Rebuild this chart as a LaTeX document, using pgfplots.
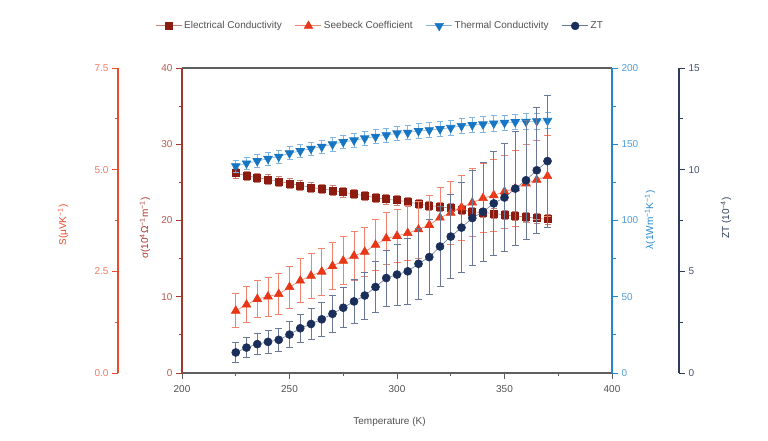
\documentclass[border=0pt]{standalone}
\usepackage{pgfplots}
\pgfplotsset{compat=1.18}
\usepackage{pgfplotstable}
\usepackage{fontspec}
\setmainfont{Liberation Sans}
\definecolor{sigC}{RGB}{140,28,16}
\definecolor{sigAx}{RGB}{165,55,45}
\definecolor{sigTk}{RGB}{180,90,80}
\definecolor{sigLt}{RGB}{200,130,120}
\definecolor{SC}{RGB}{232,55,22}
\definecolor{SAx}{RGB}{235,75,45}
\definecolor{STk}{RGB}{238,120,100}
\definecolor{SLt}{RGB}{240,130,110}
\definecolor{lamC}{RGB}{22,118,196}
\definecolor{lamAx}{RGB}{35,135,205}
\definecolor{lamTk}{RGB}{80,155,215}
\definecolor{lamLt}{RGB}{130,180,225}
\definecolor{ztC}{RGB}{26,46,90}
\definecolor{ztAx}{RGB}{45,60,90}
\definecolor{ztTk}{RGB}{70,82,110}
\definecolor{ztLt}{RGB}{105,120,150}
\definecolor{gAx}{RGB}{95,95,95}
\definecolor{gTx}{RGB}{80,80,80}
\newcommand{\fs}{\fontsize{10}{12}\selectfont}

\pgfplotstableread{
T   sig   sige  S     Se    lam    lame  zt     zte
225 26.19 0.6  1.53  0.42  135.7  4.0   1.01  0.50
230 25.88 0.6  1.68  0.44  137.5  4.0   1.25  0.48
235 25.61 0.6  1.82  0.46  139.0  4.1   1.42  0.52
240 25.40 0.6  1.88  0.48  140.5  4.1   1.53  0.55
245 25.14 0.6  1.94  0.50  141.9  4.2   1.63  0.55
250 24.87 0.6  2.11  0.52  144.1  4.2   1.89  0.65
255 24.61 0.6  2.27  0.54  145.6  4.3   2.20  0.70
260 24.35 0.6  2.39  0.56  147.1  4.3   2.41  0.75
265 24.13 0.6  2.49  0.57  148.4  4.3   2.64  0.82
270 23.96 0.6  2.63  0.58  150.0  4.4   2.91  0.90
275 23.70 0.6  2.76  0.59  151.5  4.4   3.21  0.98
280 23.48 0.6  2.88  0.60  152.6  4.5   3.52  1.06
285 23.25 0.6  2.98  0.61  153.9  4.5   3.81  1.16
290 22.99 0.6  3.15  0.63  155.0  4.6   4.23  1.27
295 22.78 0.6  3.31  0.64  156.0  4.6   4.67  1.38
300 22.65 0.6  3.37  0.65  157.2  4.6   4.84  1.50
305 22.47 0.6  3.44  0.68  157.6  4.7   5.00  1.62
310 22.16 0.6  3.53  0.70  158.7  4.7   5.37  1.73
315 21.95 0.6  3.64  0.73  159.3  4.8   5.70  1.84
320 21.81 0.6  3.82  0.75  160.0  4.8   6.22  1.95
325 21.60 0.6  3.94  0.78  160.8  4.9   6.71  2.07
330 21.38 0.6  4.07  0.80  162.0  4.9   7.15  2.20
335 21.15 0.6  4.19  0.83  162.6  4.9   7.62  2.33
340 21.02 0.6  4.30  0.85  163.1  5.0   7.93  2.45
345 20.94 0.6  4.37  0.88  163.7  5.0   8.34  2.56
350 20.72 0.6  4.46  0.90  164.1  5.1   8.63  2.67
355 20.59 0.6  4.54  0.93  164.6  5.1   9.07  2.80
360 20.46 0.6  4.66  0.95  164.8  5.2   9.48  2.93
365 20.29 0.6  4.75  0.98  165.2  5.2   9.97  3.09
370 20.16 0.6  4.84  1.00  165.4  5.2  10.42  3.25
}\data

\pgfplotsset{
  every axis/.append style={
    scale only axis, height=305pt, ymin=0,
    tick align=outside, major tick length=6pt, minor tick length=3.5pt,
    /pgf/number format/assume math mode=true,
    tick label style={font=\fs}, label style={font=\fs},
    clip=false,
  },
}

\begin{document}
\begin{tikzpicture}
\path[use as bounding box] (0,0) rectangle (768pt,441pt);

% sigma axis (main)
\begin{axis}[
  at={(182pt,68pt)}, anchor=south west, width=430pt,
  xmin=200, xmax=400, ymax=40,
  axis x line*=bottom, axis y line*=left,
  x axis line style={gAx, line width=1.1pt, -},
  y axis line style={sigAx, line width=1.1pt, -},
  xtick={200,250,...,400}, minor x tick num=1,
  ytick={0,10,20,30,40}, minor y tick num=1,
  xtick style={gAx, line width=0.9pt},
  ytick style={sigAx, line width=0.9pt},
  xticklabel style={gTx, yshift=-3pt},
  yticklabel style={sigTk},
  xlabel={Temperature (K)},
  xlabel style={gTx, at={(axis description cs:0.4826,-0.1595)}, anchor=center},
  ylabel={σ(10\textsuperscript{4}Ω\textsuperscript{−1}m\textsuperscript{−1})},
  every axis y label/.style={at={(axis description cs:-0.086,0.475)}, rotate=90, anchor=center, sigAx},
  legend style={at={(axis description cs:0.4605,1.138)}, anchor=center, draw=none, fill=none, font=\fs, text=gTx,
    /tikz/every even column/.append style={column sep=11pt}},
  legend columns=4, legend cell align=left,
]
\addplot[sigLt, line width=0.6pt, mark=square*, mark size=3.5pt, mark options={sigC, solid},
  legend image code/.code={\draw[sigLt, line width=1pt] (0pt,0pt) -- (26pt,0pt); \draw[sigC, mark=square*, mark size=3.5pt] plot coordinates {(13pt,0pt)};},
  error bars/.cd, y dir=both, y explicit,
  error bar style={sigLt, line width=0.7pt},
  error mark options={rotate=90, sigLt, mark size=3pt, line width=0.7pt}]
  table[x=T, y=sig, y error=sige]{\data};
\addlegendentry{Electrical Conductivity}
\addlegendimage{legend image code/.code={\draw[SLt, line width=1pt] (0pt,0pt) -- (26pt,0pt); \draw[SC, mark=triangle*, mark size=5pt] plot coordinates {(13pt,0pt)};}}
\addlegendentry{Seebeck Coefficient}
\addlegendimage{legend image code/.code={\draw[lamLt, line width=1pt] (0pt,0pt) -- (26pt,0pt); \draw[lamC, mark=triangle*, mark size=5pt, mark options={rotate=180}] plot coordinates {(13pt,0pt)};}}
\addlegendentry{Thermal Conductivity}
\addlegendimage{legend image code/.code={\draw[ztLt, line width=1pt] (0pt,0pt) -- (26pt,0pt); \draw[ztC, mark=*, mark size=4pt] plot coordinates {(13pt,0pt)};}}
\addlegendentry{ZT}
\end{axis}

% S axis (outer left)
\begin{axis}[
  at={(118pt,68pt)}, anchor=south west, width=494pt,
  xmin=170.2326, xmax=400, ymax=7.5,
  hide x axis, axis y line*=left,
  y axis line style={SAx, line width=1.1pt, -},
  ytick={0,2.5,5,7.5}, minor y tick num=1,
  ytick style={SAx, line width=0.9pt},
  yticklabel style={STk, /pgf/number format/.cd, fixed, fixed zerofill, precision=1},
  ylabel={S(μVK\textsuperscript{−1})},
  every axis y label/.style={at={(axis description cs:-0.1113,0.485)}, rotate=90, anchor=center, SAx},
]
\addplot[SLt, line width=0.6pt, mark=triangle*, mark size=5pt, mark options={SC, solid},
  error bars/.cd, y dir=both, y explicit,
  error bar style={SLt, line width=0.8pt},
  error mark options={rotate=90, SLt, mark size=3.5pt, line width=0.8pt}]
  table[x=T, y=S, y error=Se]{\data};
\end{axis}

% lambda axis (right)
\begin{axis}[
  at={(182pt,68pt)}, anchor=south west, width=430pt,
  xmin=200, xmax=400, ymax=200,
  axis x line*=top, axis y line*=right,
  x axis line style={gAx, line width=1.1pt, -},
  y axis line style={lamAx, line width=1.1pt, -},
  xtick=\empty,
  ytick={0,50,...,200}, minor y tick num=1,
  ytick style={lamAx, line width=0.9pt},
  yticklabel style={lamTk},
  ylabel={λ(1Wm\textsuperscript{−1}K\textsuperscript{−1})},
  every axis y label/.style={at={(axis description cs:1.0884,0.502)}, rotate=90, anchor=center, lamAx},
]
\addplot[lamLt, line width=0.6pt, mark=triangle*, mark size=5pt, mark options={lamC, solid, rotate=180},
  error bars/.cd, y dir=both, y explicit,
  error bar style={lamLt, line width=0.7pt},
  error mark options={rotate=90, lamLt, mark size=3pt, line width=0.7pt}]
  table[x=T, y=lam, y error=lame]{\data};
\end{axis}

% ZT axis (outer right)
\begin{axis}[
  at={(182pt,68pt)}, anchor=south west, width=497pt,
  xmin=200, xmax=431.163, ymax=15,
  hide x axis, axis y line*=right,
  y axis line style={ztAx, line width=1.1pt, -},
  ytick={0,5,10,15}, minor y tick num=1,
  ytick style={ztAx, line width=0.9pt},
  yticklabel style={ztTk},
  ylabel={ZT (10\textsuperscript{−4})},
  every axis y label/.style={at={(axis description cs:1.0946,0.508)}, rotate=90, anchor=center, ztAx},
]
\addplot[ztLt, line width=0.6pt, mark=*, mark size=4pt, mark options={ztC, solid},
  error bars/.cd, y dir=both, y explicit,
  error bar style={ztLt, line width=0.8pt},
  error mark options={rotate=90, ztLt, mark size=3.5pt, line width=0.8pt}]
  table[x=T, y=zt, y error=zte]{\data};
\end{axis}
\end{tikzpicture}
\end{document}
